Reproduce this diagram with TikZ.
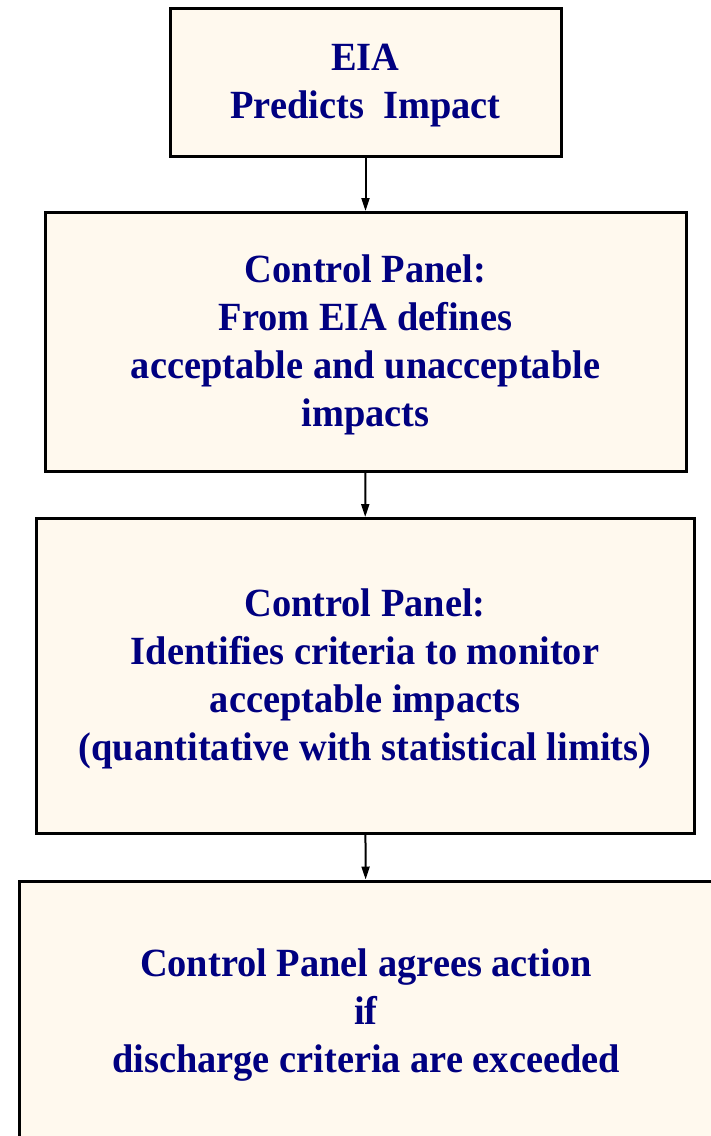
\documentclass[tikz,border=0pt]{standalone}
\usepackage{fontspec}
\setmainfont{Liberation Serif}[FakeStretch=0.96]
\usepackage{tikz}
\usetikzlibrary{arrows.meta}

\definecolor{boxfill}{HTML}{FFF9EE}
\definecolor{boxtext}{HTML}{000080}

\begin{document}
\begin{tikzpicture}[x=1pt,y=-1pt,>={Stealth[length=13pt,width=8pt,inset=0pt]},
  main box/.style={rectangle,draw=black,line width=3pt,fill=boxfill,
    text=boxtext,align=center,inner sep=0pt,
    font=\bfseries\fontsize{40}{48}\selectfont}]

  \useasboundingbox (0,0) rectangle (711,1136);
  \clip (0,0) rectangle (711,1136);

  \node[main box,minimum width=391pt,minimum height=148pt] (eia) at (365.5,82)
    {\rule{0pt}{33pt}EIA\\Predicts\ \ Impact};
  \node[main box,minimum width=641pt,minimum height=259pt] (define) at (365.5,342)
    {\rule{0pt}{33pt}Control Panel:\\From EIA defines\\acceptable and unacceptable\\impacts};
  \node[main box,minimum width=658pt,minimum height=315pt] (criteria) at (365,676)
    {\rule{0pt}{33pt}Control Panel:\\Identifies criteria to monitor\\acceptable impacts\\(quantitative with statistical limits)};
  \node[main box,minimum width=694pt,minimum height=262pt] (action) at (366,1012)
    {\rule{0pt}{33pt}Control Panel agrees action\\if\\discharge criteria are exceeded};

  \draw[->,line width=2pt] (eia) -- (define);
  \draw[->,line width=2pt] (define) -- (criteria);
  \draw[->,line width=2pt] (criteria) -- (action);
\end{tikzpicture}
\end{document}
